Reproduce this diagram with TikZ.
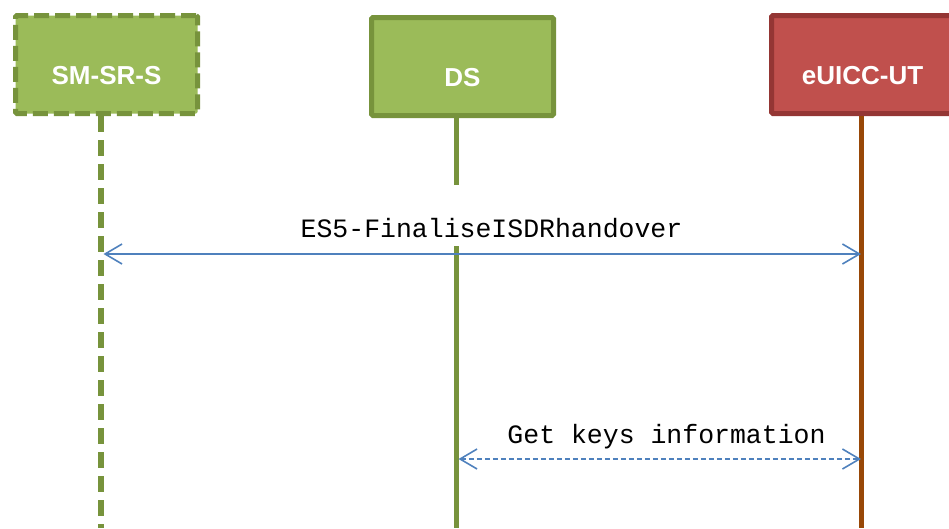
\documentclass[tikz,border=0pt]{standalone}
\usepackage{fontspec}
\setmainfont{Liberation Sans}
\setmonofont{Liberation Mono}
\usetikzlibrary{arrows.meta,
                calc,
                positioning}

\definecolor{boxgreen}{HTML}{9BBB59}
\definecolor{linegreen}{HTML}{77933C}
\definecolor{boxred}{HTML}{C0504D}
\definecolor{linered}{HTML}{943634}
\definecolor{lifebrown}{HTML}{984807}
\definecolor{msgblue}{HTML}{4F81BD}

\tikzset{
  actor/.style={draw, line width=5pt, rounded corners=1.5pt,
    minimum width=182pt, minimum height=98pt,
    inner sep=0pt, text height=39pt, text depth=0pt,
    text=white, font=\fontsize{26}{30}\selectfont\bfseries},
  msg/.style={msgblue, line width=1.6pt, <->,
    >={Straight Barb[length=17pt,width=20pt]}},
  msglabel/.style={font=\fontsize{26.5}{30}\selectfont\ttfamily,
    inner sep=0pt, anchor=base}
}

\begin{document}
\begin{tikzpicture}[x=1pt, y=-1pt]

\path[use as bounding box, clip] (0,0) rectangle (949,528);

\node[actor,
    fill=boxgreen, draw=linegreen,
    dash pattern=on 15pt off 6pt,
    preaction={draw=white, solid, line width=5pt}] (smsr) at (106.5,64.5) {SM-SR-S};

\node[actor,
    fill=boxgreen, draw=linegreen] (ds) at (462.5,66.5) {DS};

\node[actor,
    fill=boxred, draw=linered] (euicc) at (862.5,64.5) {eUICC-UT};

\coordinate (smsr-top) at ([xshift=-5.5pt]smsr.south);
\coordinate (ds-top) at ([xshift=-6.5pt]ds.south);
\coordinate (euicc-top) at ([xshift=-1.5pt]euicc.south);

\draw[linegreen, line width=5.5pt, dash pattern=on 16pt off 8pt] (smsr-top) -- (smsr-top |- 0,528);
\draw[linegreen, line width=5pt] (ds-top) -- (ds-top |- 0,528);
\draw[lifebrown, line width=5pt] (euicc-top) -- (euicc-top |- 0,528);


\node[msglabel, fill=white,
    text height=52pt, text depth=9pt] (es5) at (491.5,237) {ES5-FinaliseISDRhandover};
\draw[msg, shorten <=2.5pt] (smsr-top |- 0,254) -- (euicc-top |- 0,254);


\node[msglabel] (keys) at (666.5,443) {Get keys information};
\draw[msg, dash pattern=on 5pt off 3pt, shorten <=2.5pt] (ds-top |- 0,459) -- (euicc-top |- 0,459);

\end{tikzpicture}
\end{document}
